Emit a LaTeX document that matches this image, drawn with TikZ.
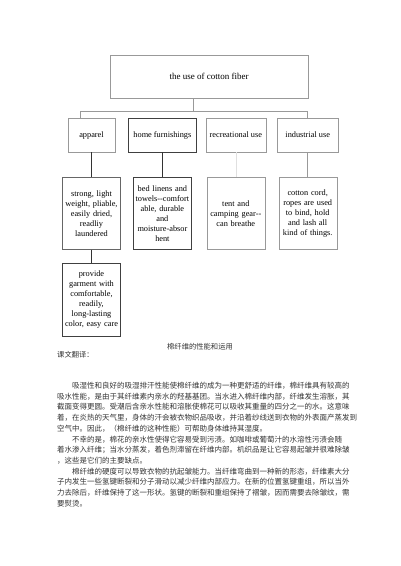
\documentclass[tikz,border=0pt]{standalone}
\usepackage{fontspec}
\setmainfont{Liberation Serif}
\newfontfamily\cjk{Noto Sans CJK SC}
\usetikzlibrary{positioning}
\tikzstyle{block} = [
  rectangle, draw=black!40, text centered, inner sep=1pt,
  font=\fontsize{8.3}{10}\selectfont
]
\tikzstyle{tblock} = [
  block, minimum width=198pt, minimum height=43pt,
  font=\fontsize{9}{11}\selectfont
]
\tikzstyle{cblock} = [block, minimum height=34pt]
\tikzstyle{dblock} = [
  block, align=center, text width=56pt, minimum width=58pt,
  minimum height=72pt
]
\tikzstyle{dark} = [draw=black!75]
\tikzstyle{link} = [draw=black!40, line width=0.5pt]
\tikzstyle{dlink} = [draw=black!80, line width=0.5pt]

\begin{document}
\begin{tikzpicture}[x=1pt, y=-1pt]
    \useasboundingbox (0,0) rectangle (400,566);
    \node[tblock] (use) at (209,76.5) {the use of cotton fiber};
    \node[cblock, minimum width=47pt] (apparel) at (91.5,135) {apparel};
    \node[cblock, dark, minimum width=68pt, right=13pt of apparel] (home) {home furnishings};
    \node[cblock, minimum width=60pt, right=9pt of home] (rec) {recreational use};
    \node[cblock, minimum width=61pt, right=11pt of rec] (ind) {industrial use};

    \node[dblock, draw=black!60, below=25pt of apparel] (light) {strong, light\\ weight, pliable,\\ easily dried,\\ readliy\\ laundered};
    \node[dblock, dark, below=25pt of home] (linen) {bed linens and\\ towels-{}-comfort\\ able, durable\\ and\\ moisture-absor\\ hent};
    \node[dblock, below=25pt of rec] (tent) {tent and\\ camping gear-{}-\\ can breathe};
    \node[dblock, below=25pt of ind] (cord) {cotton cord,\\ ropes are used\\ to bind, hold\\ and lash all\\ kind of things.};
    \node[dblock, dark, minimum height=73pt, below=13pt of light] (care) {provide\\ garment with\\ comfortable,\\ readily,\\ long-lasting\\ color, easy care};

    \draw[link] ([xshift=-16pt]use.south) |- ([yshift=7pt]ind.north) -- (ind.north);
    \draw[link] ([yshift=7pt]ind.north) -| ([xshift=-11.5pt]apparel.north);
    \draw[dlink] (apparel.south) -- (light.north);
    \draw[dlink] (home.south) -- (linen.north);
    \draw[link, draw=black!12] (rec.south) -- (tent.north);
    \draw[link] (ind.south) -- (cord.north);
    \draw[dlink] (light.south) -- (care.north);

    \node[font=\cjk\fontsize{7.3}{9}\selectfont, text=black!80] (title) at (200,347) {棉纤维的性能和运用};
    \node[anchor=west, inner sep=0pt, font=\cjk\fontsize{7.3}{9}\selectfont, text=black!80] (trans) at (57,355) {课文翻译：};
    \node[anchor=north west, inner sep=0pt, align=left, text=black!80,
      font=\cjk\fontsize{7.5}{10.7}\selectfont] (body) at (57,382) {%
      \hspace*{2em}吸湿性和良好的吸湿排汗性能使棉纤维的成为一种更舒适的纤维，棉纤维具有较高的\\
      吸水性能，是由于其纤维素内亲水的羟基基团。当水进入棉纤维内部，纤维发生溶胀，其\\
      截面变得更圆。受潮后含亲水性能和溶胀使棉花可以吸收其重量的四分之一的水。这意味\\
      着，在炎热的天气里，身体的汗会被衣物织品吸收，并沿着纱线送到衣物的外表面产蒸发到\\
      空气中。因此，（棉纤维的这种性能）可帮助身体维持其湿度。\\
      \hspace*{2em}不幸的是，棉花的亲水性使得它容易受到污渍。如咖啡或葡萄汁的水溶性污渍会随\\
      着水渗入纤维；当水分蒸发，着色剂滞留在纤维内部。机织品是让它容易起皱并很难除皱\\
      ，这些是它们的主要缺点。\\
      \hspace*{2em}棉纤维的硬度可以导致衣物的抗起皱能力。当纤维弯曲到一种新的形态，纤维素大分\\
      子内发生一些氢键断裂和分子滑动以减少纤维内部应力。在新的位置氢键重组，所以当外\\
      力去除后，纤维保持了这一形状。氢键的断裂和重组保持了褶皱，因而需要去除皱纹，需\\
      要熨烫。};
\end{tikzpicture}
\end{document}
